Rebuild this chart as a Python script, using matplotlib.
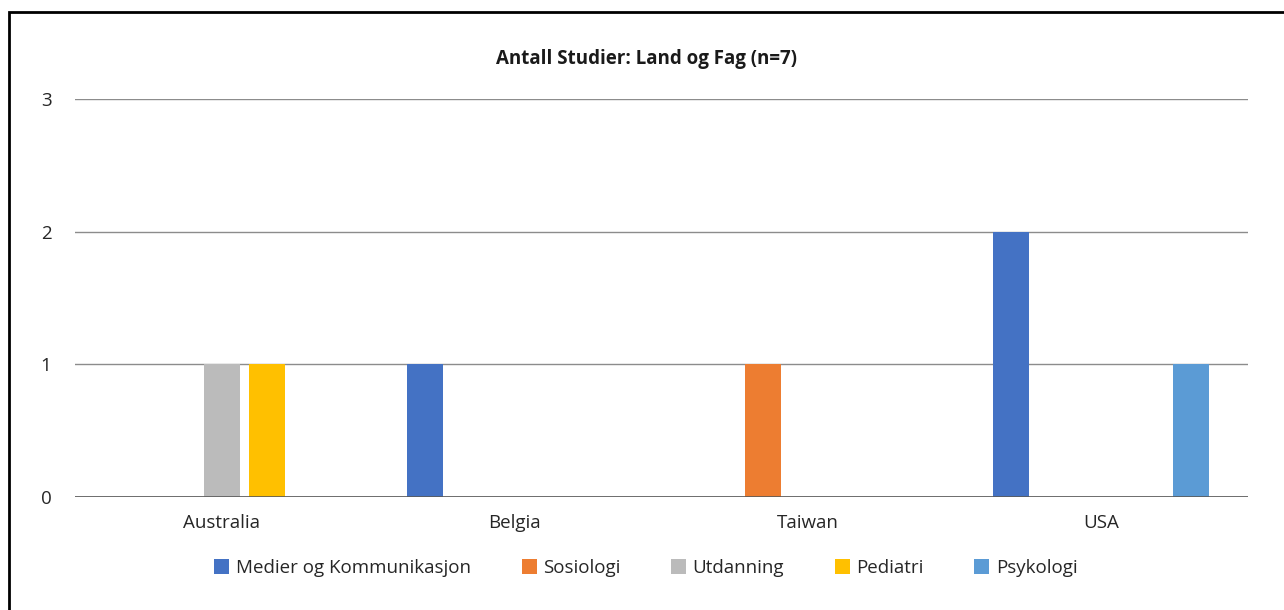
import numpy as np
import matplotlib.pyplot as plt
from matplotlib.patches import Rectangle

plt.rcParams['font.family'] = ['Open Sans', 'DejaVu Sans']

# data
countries = ["Australia", "Belgia", "Taiwan", "USA"]
fag = ["Medier og Kommunikasjon", "Sosiologi", "Utdanning", "Pediatri", "Psykologi"]
medier = [0, 1, 0, 2]
sosiologi = [0, 0, 1, 0]
utdanning = [1, 0, 0, 0]
pediatri = [1, 0, 0, 0]
psykologi = [0, 0, 0, 1]
colors = ["#4472C4", "#ED7D31", "#BBBBBB", "#FFC000", "#5B9BD5"]

fig = plt.figure(figsize=(12.84, 6.10), dpi=100)
ax = fig.add_axes([75 / 1284, 113 / 610, 1173 / 1284, 398 / 610])

x = np.arange(len(countries))
step = 0.1536
width = 0.123
series = [medier, sosiologi, utdanning, pediatri, psykologi]
for i, vals in enumerate(series):
    ax.bar(x + (i - 2) * step, vals, width=width, color=colors[i], label=fag[i], zorder=3)

ax.set_xlim(-0.5, 3.5)
ax.set_ylim(0, 3)
ax.set_yticks([0, 1, 2, 3])
ax.set_xticks(x)
ax.set_xticklabels(countries)
ax.tick_params(length=0, labelsize=13.5, labelcolor="#262626")
ax.tick_params(axis="x", pad=12)
ax.tick_params(axis="y", pad=17)
ax.grid(axis="y", color="#8C8C8C", linewidth=1.0, zorder=0)
for s in ax.spines.values():
    s.set_visible(False)
ax.axhline(0, color="#595959", linewidth=1.2, zorder=4)

fig.text(646 / 1284, 1 - 59 / 610, "Antall Studier: Land og Fag (n=7)", ha="center", va="center",
         fontsize=13.5, fontweight="bold", color="#1a1a1a")

leg = fig.legend(loc="center", bbox_to_anchor=(646 / 1284, 1 - 568 / 610), ncol=5, frameon=False,
                 fontsize=13.5, handlelength=0.8, handleheight=0.8, handletextpad=0.35,
                 columnspacing=2.7)
for t in leg.get_texts():
    t.set_color("#262626")

# outer frame
fig.patches.append(Rectangle((9 / 1284, -0.1), 1.2, 1.1 - 12 / 610, transform=fig.transFigure,
                             fill=False, edgecolor="black", linewidth=2.0))

fig.savefig("out.png", dpi=100)
